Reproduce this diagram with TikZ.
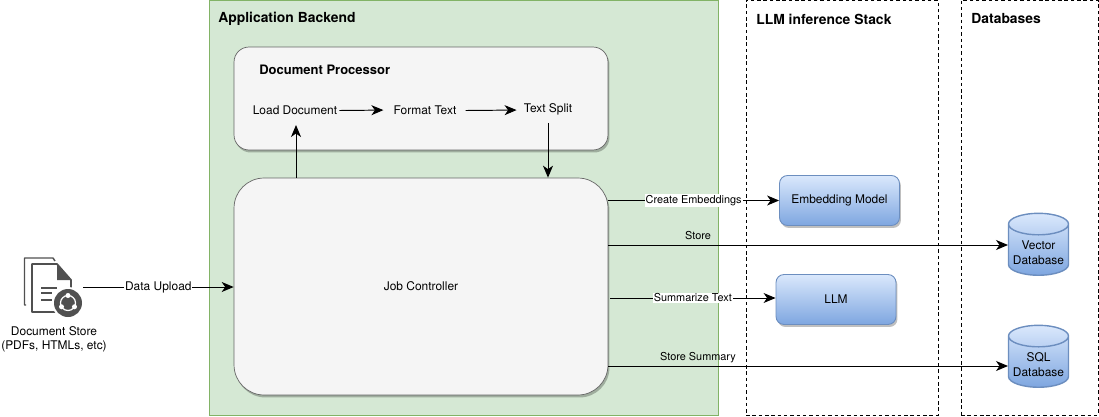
\documentclass[tikz,border=0pt]{standalone}
\usepackage{fontspec}
\setmainfont{TeX Gyre Heros}
\usetikzlibrary{arrows.meta,shadows,shapes.geometric}

\definecolor{grnfill}{HTML}{D5E8D4}
\definecolor{grnline}{HTML}{82B366}
\definecolor{boxfill}{HTML}{F5F5F5}
\definecolor{boxline}{HTML}{666666}
\definecolor{blutop}{HTML}{DAE8FC}
\definecolor{blubot}{HTML}{7EA6E0}
\definecolor{bluline}{HTML}{6C8EBF}
\definecolor{icongray}{HTML}{505050}

\tikzset{
  softshadow/.style={drop shadow={shadow xshift=0.03cm, shadow yshift=-0.05cm, opacity=0.25, fill=black}},
  arr/.style={draw=black, line width=0.55pt, -{Stealth[length=0.24cm, width=0.2cm, inset=0.07cm]}},
  lbl/.style={font=\fontsize{6.8pt}{8pt}\selectfont, inner sep=0.5pt, align=center},
  tinylbl/.style={font=\fontsize{6.2pt}{7.5pt}\selectfont, inner sep=0.5pt, fill=white},
  title/.style={font=\bfseries\fontsize{7.9pt}{9pt}\selectfont, inner sep=0pt, anchor=west},
  procbox/.style={draw=boxline, line width=0.4pt, fill=boxfill, softshadow, rectangle, minimum width=7.48cm},
  modelbox/.style={draw=bluline, line width=0.5pt, top color=blutop, bottom color=blubot, rectangle, rounded corners=0.16cm, minimum width=2.4cm, minimum height=1cm, lbl, softshadow},
  dbcyl/.style={draw=bluline, line width=0.8pt, cylinder, shape border rotate=90, aspect=0.42, top color=blutop, bottom color=blubot, minimum width=1.2cm, minimum height=1.16cm, lbl, inner sep=0pt},
  stackbox/.style={draw=black, dash pattern=on 2pt off 1.6pt, line width=0.45pt, rectangle, minimum height=8.3cm}
}

\begin{document}
\begin{tikzpicture}[x=0.02cm, y=-0.02cm]
  \useasboundingbox (0,0) rectangle (1099,416);

  % Backend and the two stacks
  \node (BE) [draw=grnline, line width=0.5pt, fill=grnfill, rectangle, minimum width=10.18cm, minimum height=8.3cm] at (463.5,207.5) {};
  \node (LS) [stackbox, minimum width=3.84cm] at (842,207.5) {};
  \node (DS) [stackbox, minimum width=2.74cm] at (1029.5,207.5) {};
  \node (BEtitle) [title] at (218,19) {Application Backend};
  \node (LStitle) [title] at (756,19) {LLM inference Stack};
  \node (DStitle) [title] at (971,19) {Databases};

  % Document Processor
  \node (DP) [procbox, rounded corners=0.3cm, minimum height=2.06cm] at (421,98.5) {};
  \node (DPtitle) [title, font=\bfseries\fontsize{7.4pt}{8pt}\selectfont] at (259,70) {Document Processor};
  \node (LD) [lbl] at (295,110) {Load Document};
  \node (FT) [lbl] at (425,110) {Format Text};
  \node (TS) [lbl] at (548,109) {Text Split};

  % Job Controller
  \node (JC) [procbox, rounded corners=0.6cm, minimum height=4.34cm, lbl] at (421,286.5) {Job Controller};

  % Models
  \node (EM) [modelbox] at (839.5,200.5) {Embedding Model};
  \node (LLM) [modelbox] at (836,299.5) {LLM};

  % Databases
  \node (VDB) [dbcyl] at (1038.5,250) {\rule{0pt}{8pt}Vector\\[0.4pt]Database};
  \node (SQL) [dbcyl] at (1038.5,362) {\rule{0pt}{8pt}SQL\\[0.4pt]Database};

  % Document Store icon
  \draw[icongray, line width=0.8pt, line join=round] (26,305) -- (24.5,305) -- (24.5,258) -- (53,258) -- (55,261);
  \draw[icongray, line width=1pt, line join=round, fill=white] (32,264) -- (57,264) -- (71,280) -- (71,312) -- (32,312) -- cycle;
  \fill[icongray] (57,264) -- (71,280) -- (57,280) -- cycle;
  \foreach \y/\xe in {288/57, 293/52, 300/52} {
      \draw[icongray, line width=0.7pt] (41,\y) -- (\xe,\y);
    }
  \fill[white] (68,303) circle (16);
  \fill[icongray] (68,303) circle (14);
  \draw[white, line width=0.7pt] (68,303) circle (7.5);
  \foreach \a in {90, 210, 330} {
      \fill[white] (68,303) ++(\a:-7.5) circle (2.5);
    }
  \fill[icongray] (68,303) circle (4);
  \coordinate (DU) at (83,287);
  \node (DStext) [lbl] at (54,339) {Document Store\\(PDFs, HTMLs, etc)};

  % Connections
  \draw[arr] (DU) -- (JC.west |- DU) node[pos=0.5, lbl, fill=white] {Data Upload};
  \draw[arr, shorten >=0.18cm] (LD.east) ++(1,0.5) -- (FT.west);
  \draw[arr, shorten >=0.12cm] (FT.east) ++(8,0.5) -- (TS.west |- FT.east);
  \draw[arr] (JC.north -| LD) ++(1,0) -- (296,125);
  \draw[arr] (TS.south) ++(0,7) -- (JC.north -| TS);
  \draw[arr] (JC.east |- EM) -- (EM.west) node[pos=0.5, tinylbl] {Create Embeddings};
  \coordinate (SV) at (1008,245);
  \draw[arr] (JC.east |- SV) -- (SV);
  \coordinate (SS) at (1008,366);
  \draw[arr] (JC.east |- SS) -- (SS);
  \draw[arr] (610,298) coordinate (ST) -- (ST -| LLM.west) node[pos=0.5, tinylbl] {Summarize Text};
  \node (STlbl) [tinylbl, fill=none] at (698,236) {Store};
  \node (SSlbl) [tinylbl, fill=none] at (698,358) {Store Summary};
\end{tikzpicture}
\end{document}
